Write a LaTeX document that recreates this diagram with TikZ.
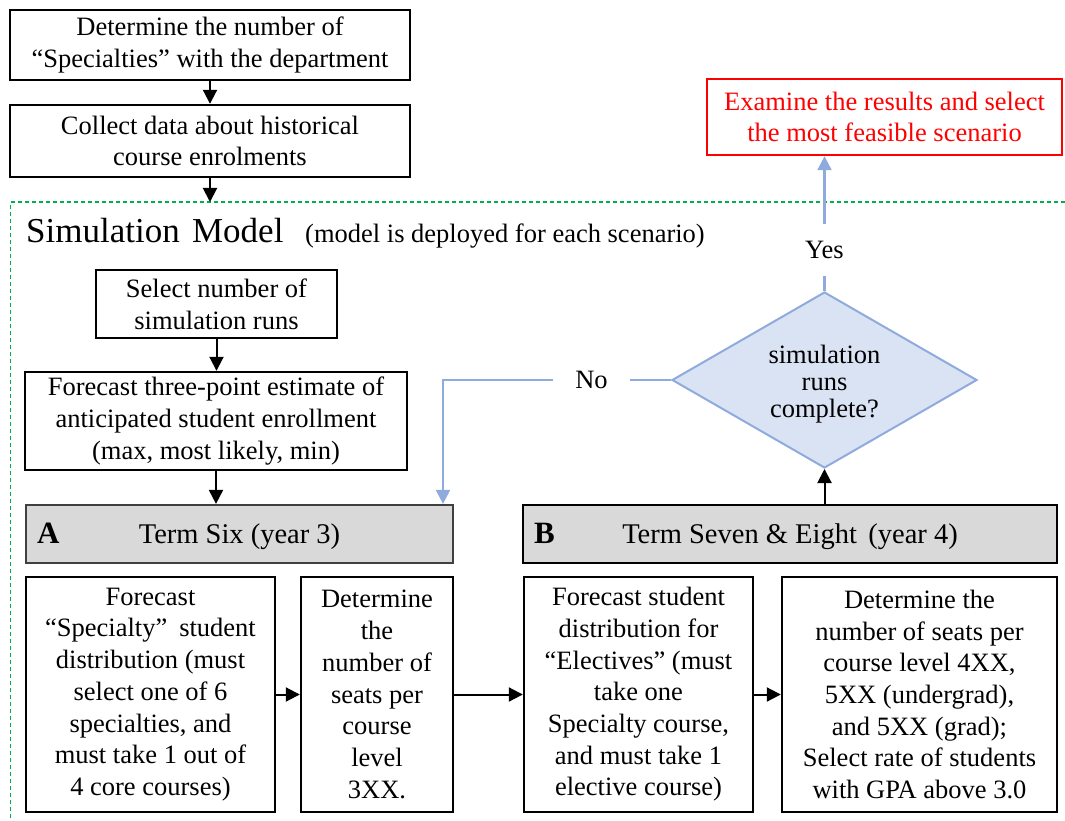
\documentclass[tikz,border=0pt]{standalone}
\usepackage{fontspec}
\setmainfont{Liberation Serif}
\usetikzlibrary{arrows.meta,shapes.geometric}
\definecolor{lblue}{HTML}{8FAADC}
\definecolor{dfill}{HTML}{DAE3F3}
\definecolor{hgray}{HTML}{D9D9D9}
\definecolor{dgreen}{HTML}{00B050}
\definecolor{hborder}{HTML}{404040}
\newcommand{\bodyfont}{\rmfamily\fontsize{26.5}{31.7}\selectfont}
\newcommand{\hdrfont}{\rmfamily\fontsize{28.5}{32}\selectfont}
\begin{document}
\begin{tikzpicture}[x=1pt,y=-1pt,
  box/.style={draw=black, line width=2.4pt, align=center, inner sep=0pt, font=\bodyfont},
  hdr/.style={draw=hborder, fill=hgray, line width=2.2pt, inner sep=0pt, minimum height=58pt},
  arr/.style={line width=2pt, -{Triangle[length=14pt,width=14pt]}},
  barr/.style={draw=lblue, line width=2.2pt, -{Triangle[length=14pt,width=14pt]}},
  bline/.style={draw=lblue, line width=2.2pt},
  lab/.style={font=\bodyfont, inner sep=0pt}
]
\useasboundingbox (0,0) rectangle (1065,821);

% dashed simulation model frame
\draw[dgreen, line width=1.3pt, dash pattern=on 4pt off 3pt] (1065,202) -- (10.7,202) -- (10.7,821);

% top boxes
\node[box, minimum width=400pt, minimum height=70pt] (b1) at (210,45) {Determine the number of\\“Specialties” with the department};
\node[box, minimum width=400pt, minimum height=72pt] (b2) at (210,141) {Collect data about historical\\course enrolments};
\coordinate (dtop) at (210,202);

% red result box
\node[box, draw=red, text=red, minimum width=355pt, minimum height=76pt] (red) at (884.5,117) {Examine the results and select\\the most feasible scenario};

% title
\node[anchor=base west, inner sep=0pt, font=\rmfamily\fontsize{35}{40}\selectfont] (sm) at (26,242) {Simulation\hspace{0.35em}Model};
\node[anchor=base west, inner sep=0pt, font=\bodyfont] (smsub) at (305,242) {(model is deployed for each scenario)};

% simulation boxes
\node[box, minimum width=241pt, minimum height=68pt] (sel) at (216.5,304) {Select number of\\simulation runs};
\node[box, minimum width=382pt, minimum height=98pt] (fc) at (216,421) {Forecast three-point estimate of\\anticipated student enrollment\\(max, most likely, min)};

% decision
\node[diamond, draw=lblue, fill=dfill, line width=2pt, minimum width=305pt, minimum height=176pt, inner sep=0pt, aspect=1.73] (dia) at (824.5,380) {};
\node[align=center, inner sep=0pt, font=\rmfamily\fontsize{26.5}{26.7}\selectfont] (diat) at (824.5,384) {simulation\\runs\\complete?};
\node[lab, minimum height=52pt] (yes) at (824.5,250) {Yes};
\node[lab, minimum width=77pt, minimum height=26pt] (no) at (591.5,380) {No};
\coordinate (cn) at (443,380);

% headers
\node[hdr, minimum width=427pt] (hA) at (239.5,534) {};
\node[anchor=base, inner sep=0pt, font=\hdrfont] (hAt) at (239.5,543) {Term Six (year 3)};
\node[anchor=base west, inner sep=0pt, font=\rmfamily\fontsize{31}{34}\selectfont\bfseries] (hAl) at (37,543) {A};
\node[hdr, draw=black, minimum width=534pt] (hB) at (790,534) {};
\node[anchor=base, inner sep=0pt, font=\hdrfont] (hBt) at (790,543) {Term Seven \& Eight\hspace{0.15em} (year 4)};
\node[anchor=base west, inner sep=0pt, font=\rmfamily\fontsize{31}{34}\selectfont\bfseries] (hBl) at (534,543) {B};

% bottom boxes
\node[box, minimum width=249pt, minimum height=235pt] (a1) at (150.5,694.5) {Forecast\\“Specialty”\hspace{0.2em} student\\distribution (must\\select one of 6\\specialties, and\\must take 1 out of\\4 core courses)};
\node[box, minimum width=152pt, minimum height=235pt] (a2) at (377,694.5) {Determine\\the\\number of\\seats per\\course\\level\\3XX.};
\node[box, minimum width=229pt, minimum height=235pt] (bb1) at (638.5,694.5) {Forecast student\\distribution for\\“Electives” (must\\take one\\Specialty course,\\and must take 1\\elective course)};
\node[box, minimum width=275pt, minimum height=235pt] (bb2) at (919.5,694.5) {Determine the\\number of seats per\\course level 4XX,\\5XX (undergrad),\\and 5XX (grad);\\Select rate of students\\with GPA above 3.0};

% black connectors
\draw[arr] (b1) -- (b2);
\draw[arr] (b2.south) -- (dtop);
\draw[arr] (sel.south) -- (sel.south |- fc.north);
\draw[arr] (fc.south) -- (fc.south |- hA.north);
\draw[arr] (a1) -- (a2);
\draw[arr] (a2) -- (bb1);
\draw[arr] (bb1) -- (bb2);
\draw[arr] (dia.south |- hB.north) -- (dia.south);

% blue connectors
\draw[bline] (dia.north) -- (yes.south);
\draw[barr] (yes.north) -- (yes.north |- red.south);
\draw[bline] (dia.west) -- (no.east);
\draw[barr] (no.west) -- (cn) -- (cn |- hA.north);
\end{tikzpicture}
\end{document}
